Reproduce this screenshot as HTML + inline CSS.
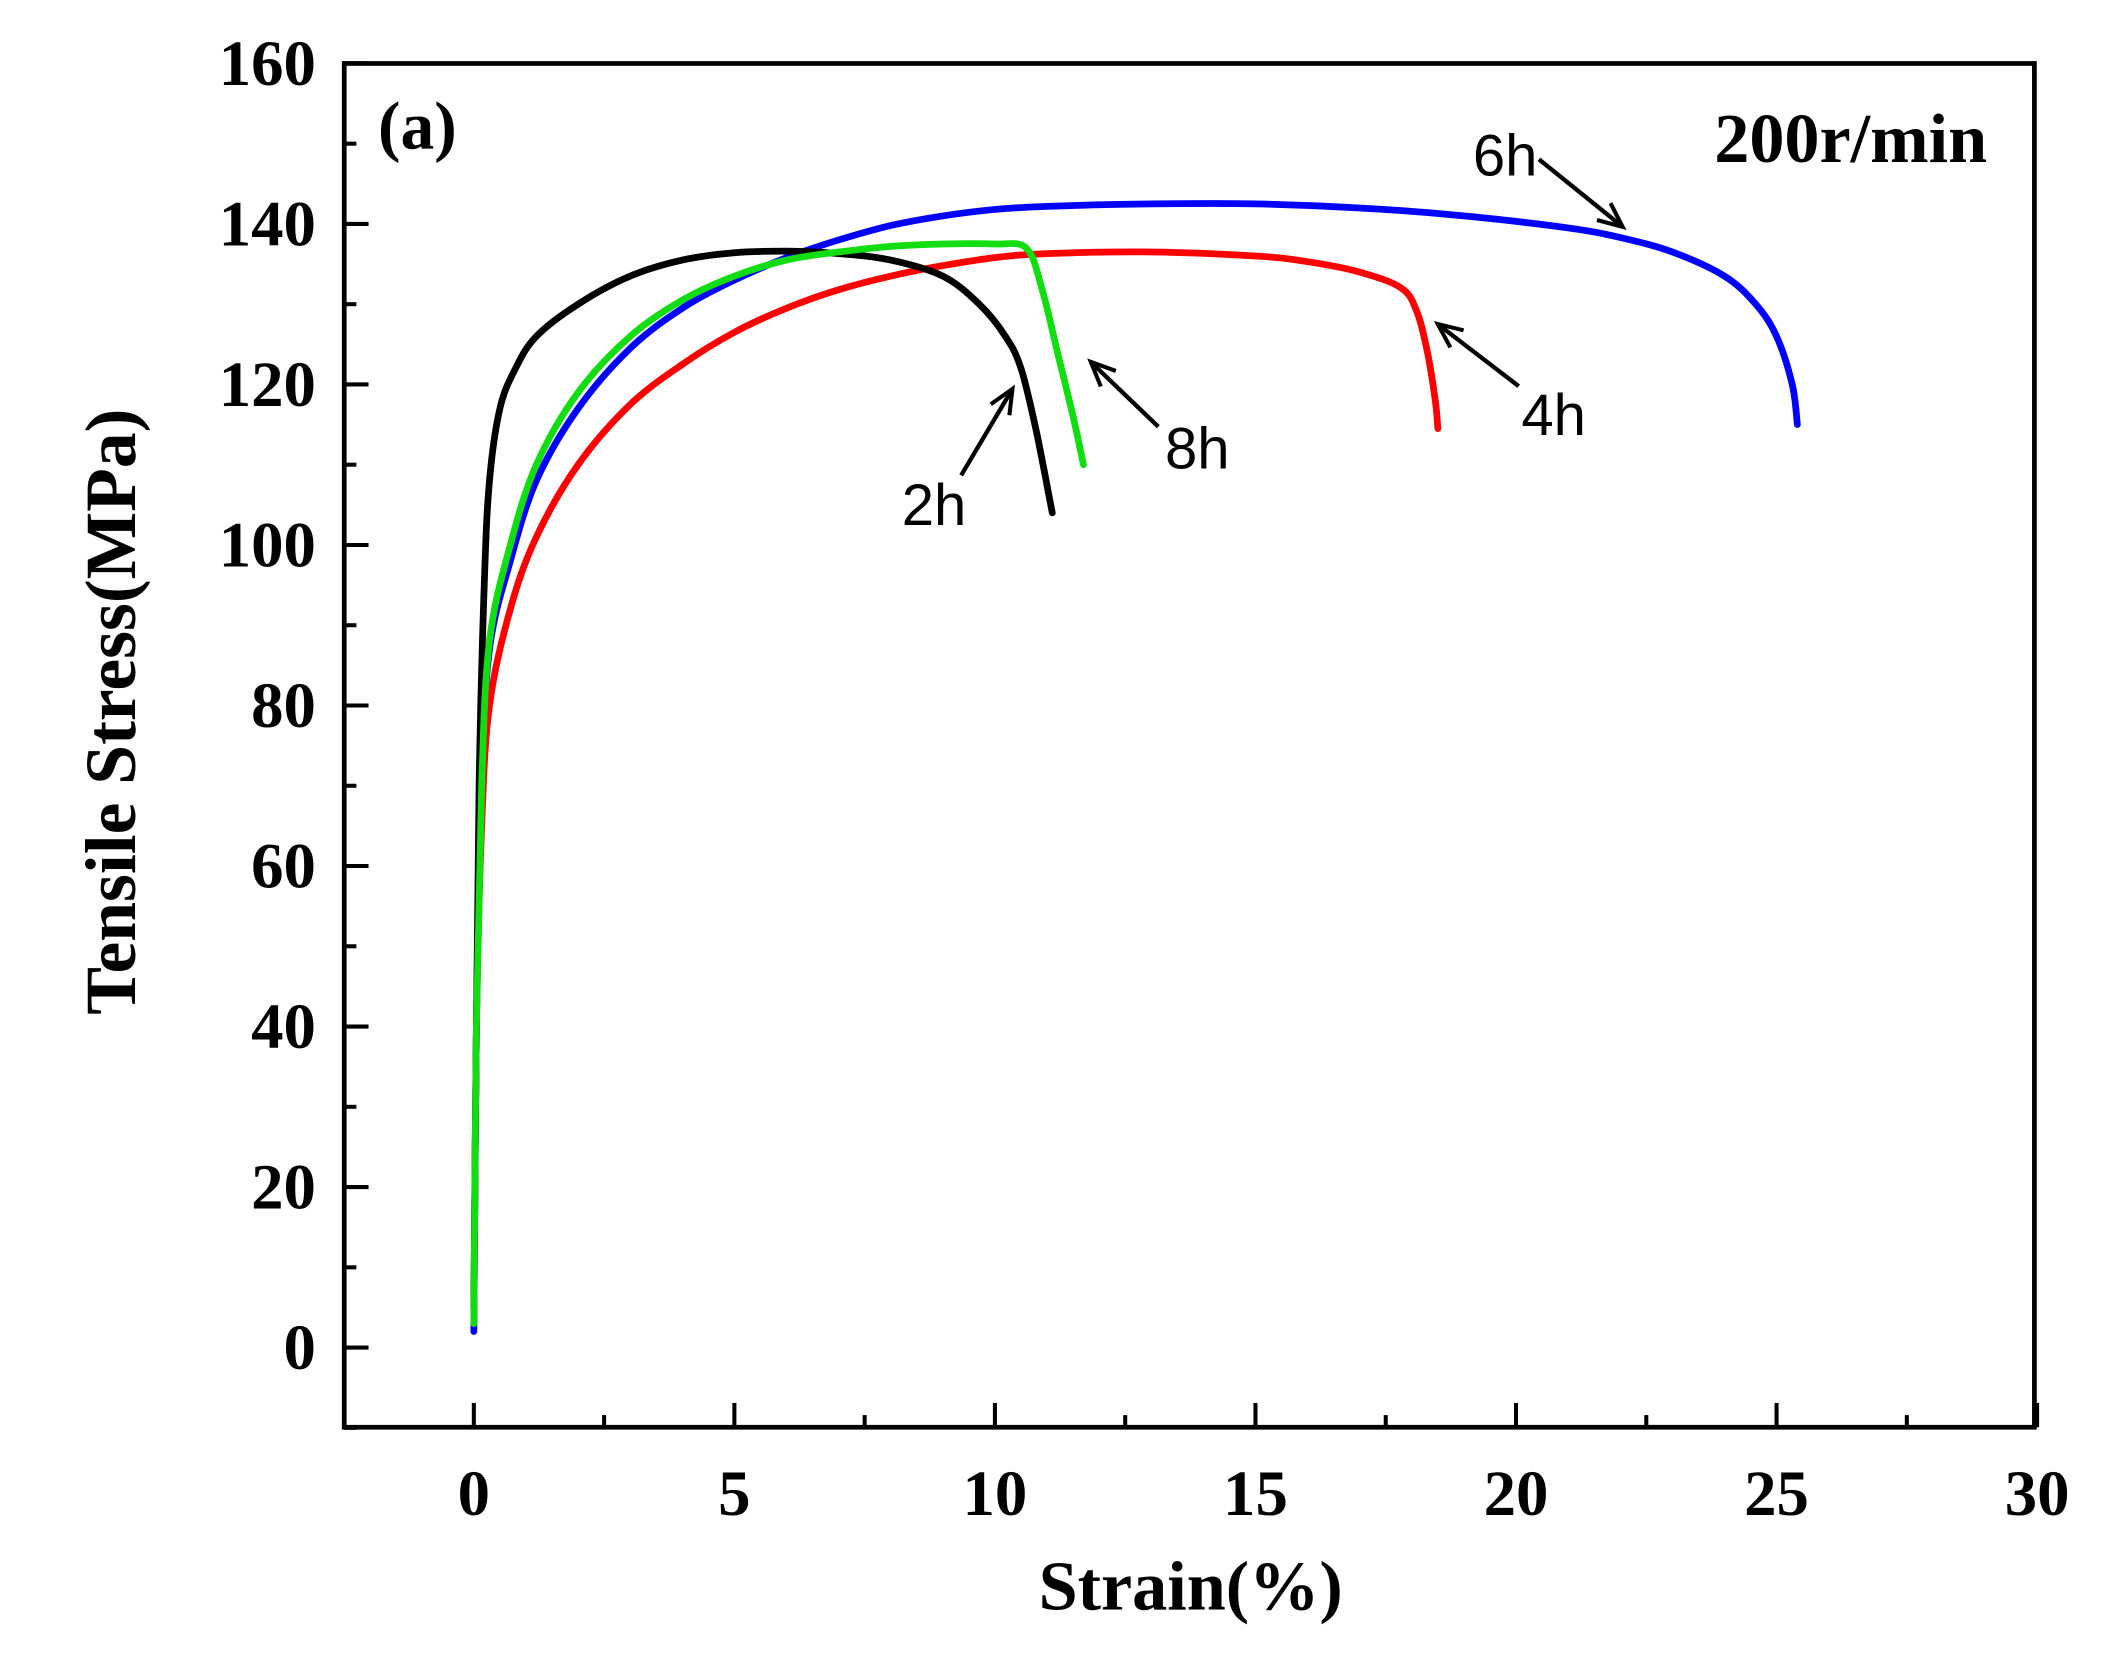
<!DOCTYPE html>
<html><head><meta charset="utf-8"><style>html,body{margin:0;padding:0;background:#fff}svg{display:block}</style></head>
<body>
<svg width="2110" height="1673" viewBox="0 0 1563 1239" preserveAspectRatio="none" xmlns="http://www.w3.org/2000/svg">
<rect width="1563" height="1239" fill="#fff"/>
<defs><marker id="ah" markerWidth="24" markerHeight="24" refX="20" refY="10" orient="auto" markerUnits="userSpaceOnUse" viewBox="0 0 24 20"><path d="M2,2 L20,10 L2,18" fill="none" stroke="#000" stroke-width="3"/></marker></defs>
<g id="ticks" stroke="#000" stroke-width="3"></g>
<rect x="255" y="47" width="1252" height="1010" fill="none" stroke="#000" stroke-width="3.5"/>
<g font-family="Liberation Serif, serif" font-weight="bold" font-size="48" fill="#000" text-anchor="end" id="ylab"></g>
<g font-family="Liberation Serif, serif" font-weight="bold" font-size="48" fill="#000" text-anchor="middle" id="xlab"></g>
<g fill="none" stroke-width="5" stroke-linejoin="round" stroke-linecap="round" id="curves"></g>
<text x="882" y="1192" font-family="Liberation Serif, serif" font-weight="bold" font-size="52" text-anchor="middle">Strain(%)</text>
<text transform="translate(100,527) rotate(-90)" font-family="Liberation Serif, serif" font-weight="bold" font-size="53" text-anchor="middle">Tensile Stress(MPa)</text>
<text x="280" y="110" font-family="Liberation Serif, serif" font-weight="bold" font-size="50">(a)</text>
<text x="1472" y="120" font-family="Liberation Serif, serif" font-weight="bold" font-size="52" text-anchor="end">200r/min</text>
<g font-family="Liberation Sans, sans-serif" font-size="43" fill="#000">
<text x="1091" y="130">6h</text><text x="1127" y="322">4h</text><text x="863" y="347">8h</text><text x="668" y="389">2h</text>
</g>
<g stroke="#000" stroke-width="3.2" marker-end="url(#ah)">
<line x1="1140" y1="118" x2="1202" y2="168"/><line x1="1125" y1="286" x2="1065" y2="240"/>
<line x1="858" y1="316" x2="808" y2="268"/><line x1="712" y1="352" x2="750" y2="288"/>
</g>
</svg>
<script>
const X=s=>351+38.6*s, Y=v=>998-5.944*v, NS="http://www.w3.org/2000/svg";
const t=document.getElementById('ticks');
function ln(x1,y1,x2,y2){const l=document.createElementNS(NS,'line');l.setAttribute('x1',x1);l.setAttribute('y1',y1);l.setAttribute('x2',x2);l.setAttribute('y2',y2);t.appendChild(l);}
for(let v=-10;v<=160;v+=10){ln(255,Y(v),255+(v%20==0?18:9),Y(v));}
for(let s=0;s<=30;s+=2.5){ln(X(s),1057,X(s),1057-(s%5==0?18:9));}
const yl=document.getElementById('ylab');
for(let v=0;v<=160;v+=20){const e=document.createElementNS(NS,'text');e.setAttribute('x',234);e.setAttribute('y',Y(v)+16);e.textContent=v;yl.appendChild(e);}
const xl=document.getElementById('xlab');
for(let s=0;s<=30;s+=5){const e=document.createElementNS(NS,'text');e.setAttribute('x',X(s));e.setAttribute('y',1122);e.textContent=s;xl.appendChild(e);}
const C={
"#000":[[0,5],[0.05,40],[0.1,70],[0.2,95],[0.3,108],[0.5,117],[0.8,122],[1.2,126],[2,130],[3,133.5],[4,135.5],[5,136.4],[6,136.6],[7,136.3],[8,135.5],[9,133.5],[9.7,130],[10.2,126],[10.5,122],[10.8,114],[11.1,104]],
"#f00":[[0,3],[0.05,40],[0.15,65],[0.3,80],[0.7,92],[1.2,101],[2,110],[3,117.5],[4,122.5],[5,126.5],[6,129.5],[7,131.8],[8,133.5],[9,134.8],[10,135.8],[11,136.3],[13,136.5],[15,136],[16,135.3],[17,134],[17.8,132],[18.1,129],[18.3,124],[18.45,118],[18.5,114.5]],
"#00f":[[0,2],[0.05,40],[0.15,70],[0.3,87],[0.7,98],[1.2,108],[2,117],[3,124.5],[4,129.5],[5,133],[6,135.8],[7,138],[8,139.8],[9,141],[10,141.8],[11,142.2],[13,142.5],[15,142.5],[17,142],[19,141],[21,139.5],[22,138.3],[23,136.5],[24,133.5],[24.6,130],[25,126],[25.3,120],[25.4,115]],
"#1d1":[[0,3],[0.05,40],[0.15,70],[0.3,88],[0.7,100],[1.2,110],[2,119],[3,126],[4,130.5],[5,133.5],[6,135.5],[7,136.5],[8,137.2],[9,137.5],[10,137.5],[10.6,137],[10.9,132],[11.2,124],[11.5,116],[11.7,110]]};
const g=document.getElementById('curves');
function path(pts){const P=pts.map(a=>[X(a[0]),Y(a[1])]);let d='M'+P[0][0].toFixed(1)+','+P[0][1].toFixed(1);
for(let i=0;i<P.length-1;i++){const p0=P[Math.max(0,i-1)],p1=P[i],p2=P[i+1],p3=P[Math.min(P.length-1,i+2)];
const c1=[p1[0]+(p2[0]-p0[0])/6,p1[1]+(p2[1]-p0[1])/6],c2=[p2[0]-(p3[0]-p1[0])/6,p2[1]-(p3[1]-p1[1])/6];
d+=' C'+c1.map(v=>v.toFixed(1)).join(',')+' '+c2.map(v=>v.toFixed(1)).join(',')+' '+p2.map(v=>v.toFixed(1)).join(',');}return d;}
for(const c of ["#00f","#f00","#000","#1d1"]){const p=document.createElementNS(NS,'path');p.setAttribute('stroke',c);p.setAttribute('d',path(C[c]));g.appendChild(p);}
</script>
</body></html>
